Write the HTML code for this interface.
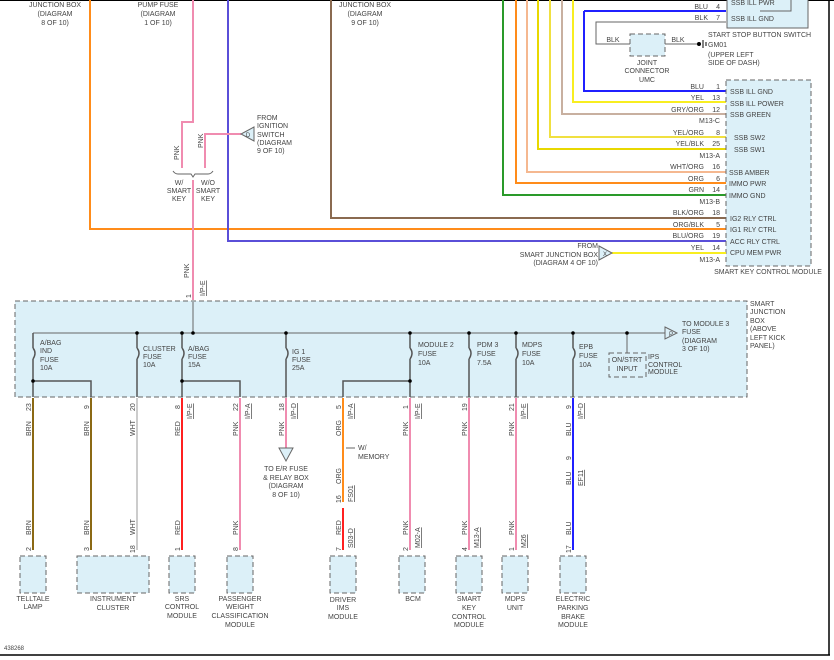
<!DOCTYPE html>
<html><head><meta charset="utf-8"><style>
html,body{margin:0;padding:0;background:#fff}
svg{display:block}
text{font-family:"Liberation Sans",sans-serif;font-size:7px;fill:#444}
.c{text-anchor:middle}
.r{text-anchor:end}
.box{fill:#dcf0f8;stroke:#666;stroke-width:1;stroke-dasharray:5,3}
.w{fill:none;stroke-width:2}
.k{fill:none;stroke:#666;stroke-width:1}
</style></head><body>
<svg width="834" height="660" viewBox="0 0 834 660" xmlns="http://www.w3.org/2000/svg">
<rect x="0" y="0" width="834" height="660" fill="#fff"/>
<line x1="0" y1="0.5" x2="834" y2="0.5" stroke="#000" stroke-width="1"/>
<line x1="829" y1="0" x2="829" y2="655" stroke="#000" stroke-width="1.5"/>
<line x1="0" y1="655" x2="830" y2="655" stroke="#000" stroke-width="1.5"/>

<!-- top labels -->
<text x="55" y="7" class="c">JUNCTION BOX</text>
<text x="55" y="16" class="c">(DIAGRAM</text>
<text x="55" y="25" class="c">8 OF 10)</text>
<text x="158" y="7" class="c">PUMP FUSE</text>
<text x="158" y="16" class="c">(DIAGRAM</text>
<text x="158" y="25" class="c">1 OF 10)</text>
<text x="365" y="7" class="c">JUNCTION BOX</text>
<text x="365" y="16" class="c">(DIAGRAM</text>
<text x="365" y="25" class="c">9 OF 10)</text>

<!-- long wires to SKCM -->
<path class="w" stroke="#ff8c1a" d="M90 0 V229 H726"/>
<path class="w" stroke="#5a4fd8" d="M228 0 V241 H726"/>
<path class="w" stroke="#8a6a50" d="M331 0 V218 H726"/>
<path class="w" stroke="#2a9a2a" d="M503 0 V195 H726"/>
<path class="w" stroke="#ff8c1a" d="M516 0 V183 H726"/>
<path class="w" stroke="#f5b890" d="M527 0 V172 H726"/>
<path class="w" stroke="#e8d800" d="M538 0 V149 H726"/>
<path class="w" stroke="#f0e040" d="M550 0 V137 H726"/>
<path class="w" stroke="#c8b0a0" d="M562 0 V114 H726"/>
<path class="w" stroke="#f8ee20" d="M573 0 V102 H726"/>
<path class="w" stroke="#2020ff" d="M584 11 V91 H726"/>
<path class="w" stroke="#2020ff" d="M584 11 H726"/>
<path class="k" stroke-width="1.5" d="M726 22 H596 V44 H630"/>
<path class="k" stroke-width="1.5" d="M665 44 H698"/>
<rect x="630" y="34" width="35" height="22" class="box"/>
<circle cx="699" cy="44" r="2" fill="#000"/>
<line x1="703" y1="40" x2="703" y2="48" stroke="#000"/>
<line x1="706" y1="42" x2="706" y2="46" stroke="#000"/>
<text x="613" y="42" class="c">BLK</text>
<text x="678" y="42" class="c">BLK</text>
<text x="708" y="47">GM01</text>
<text x="708" y="57">(UPPER LEFT</text>
<text x="708" y="65">SIDE OF DASH)</text>
<text x="647" y="65" class="c">JOINT</text>
<text x="647" y="73" class="c">CONNECTOR</text>
<text x="647" y="82" class="c">UMC</text>

<!-- start stop switch -->
<rect x="727" y="-4" width="81" height="32" fill="#dcf0f8" stroke="#666"/>
<path class="k" d="M791 -2 V11 H760"/>
<text x="731" y="5">SSB ILL PWR</text>
<text x="731" y="21">SSB ILL GND</text>
<text x="708" y="9" class="r">BLU</text><text x="720" y="9" class="r">4</text>
<text x="708" y="20" class="r">BLK</text><text x="720" y="20" class="r">7</text>
<text x="708" y="37">START STOP BUTTON SWITCH</text>

<!-- SKCM -->
<rect x="726" y="80" width="85" height="186" class="box"/>
<g>
<text x="730" y="94">SSB ILL GND</text>
<text x="730" y="106">SSB ILL POWER</text>
<text x="730" y="117">SSB GREEN</text>
<text x="734" y="140">SSB SW2</text>
<text x="734" y="152">SSB SW1</text>
<text x="729" y="175">SSB AMBER</text>
<text x="729" y="186">IMMO PWR</text>
<text x="729" y="198">IMMO GND</text>
<text x="730" y="221">IG2 RLY CTRL</text>
<text x="730" y="232">IG1 RLY CTRL</text>
<text x="730" y="244">ACC RLY CTRL</text>
<text x="730" y="255">CPU MEM PWR</text>
</g>
<g class="r">
<text x="704" y="89" class="r">BLU</text><text x="720" y="89" class="r">1</text>
<text x="704" y="100" class="r">YEL</text><text x="720" y="100" class="r">13</text>
<text x="704" y="112" class="r">GRY/ORG</text><text x="720" y="112" class="r">12</text>
<text x="720" y="123" class="r">M13-C</text>
<text x="704" y="135" class="r">YEL/ORG</text><text x="720" y="135" class="r">8</text>
<text x="704" y="146" class="r">YEL/BLK</text><text x="720" y="146" class="r">25</text>
<text x="720" y="158" class="r">M13-A</text>
<text x="704" y="169" class="r">WHT/ORG</text><text x="720" y="169" class="r">16</text>
<text x="704" y="181" class="r">ORG</text><text x="720" y="181" class="r">6</text>
<text x="704" y="192" class="r">GRN</text><text x="720" y="192" class="r">14</text>
<text x="720" y="204" class="r">M13-B</text>
<text x="704" y="215" class="r">BLK/ORG</text><text x="720" y="215" class="r">18</text>
<text x="704" y="227" class="r">ORG/BLK</text><text x="720" y="227" class="r">5</text>
<text x="704" y="238" class="r">BLU/ORG</text><text x="720" y="238" class="r">19</text>
<text x="704" y="250" class="r">YEL</text><text x="720" y="250" class="r">14</text>
<text x="720" y="262" class="r">M13-A</text>
</g>
<text x="768" y="274" class="c">SMART KEY CONTROL MODULE</text>
<path class="w" stroke="#f8ee20" d="M612 253 H726"/>
<path d="M599 246 L612 253 L599 260 Z" fill="#dcf0f8" stroke="#666"/>
<text x="605" y="256" class="c" style="font-size:6px">X</text>
<text x="598" y="248" class="r">FROM</text>
<text x="598" y="257" class="r">SMART JUNCTION BOX</text>
<text x="598" y="265" class="r">(DIAGRAM 4 OF 10)</text>

<!-- pink input -->
<path class="w" stroke="#f08cb0" d="M193 0 V122 H182 V168"/>
<path class="w" stroke="#f08cb0" d="M205 168 V134 H241"/>
<path class="w" stroke="#f08cb0" d="M193 180 V300"/>
<path d="M254 127 L241 134 L254 141 Z" fill="#dcf0f8" stroke="#666"/>
<text x="248" y="137" class="c" style="font-size:6px">D</text>
<text x="257" y="120">FROM</text><text x="257" y="128">IGNITION</text><text x="257" y="137">SWITCH</text><text x="257" y="145">(DIAGRAM</text><text x="257" y="153">9 OF 10)</text>
<path class="k" d="M173 171 q2 3 5 3 h13 l2 3 l2 -3 h13 q3 0 5 -3"/>
<text x="179" y="185" class="c">W/</text><text x="179" y="193" class="c">SMART</text><text x="179" y="201" class="c">KEY</text>
<text x="208" y="185" class="c">W/O</text><text x="208" y="193" class="c">SMART</text><text x="208" y="201" class="c">KEY</text>
<text transform="translate(179,160) rotate(-90)">PNK</text>
<text transform="translate(203,148) rotate(-90)">PNK</text>
<text transform="translate(189,278) rotate(-90)">PNK</text>
<text transform="translate(205,296) rotate(-90)" style="text-decoration:underline">I/P-E</text>
<text transform="translate(191,298) rotate(-90)">1</text>

<!-- smart junction box -->
<rect x="15" y="301" width="732" height="96" class="box"/>
<text x="750" y="306">SMART</text><text x="750" y="314">JUNCTION</text><text x="750" y="323">BOX</text><text x="750" y="331">(ABOVE</text><text x="750" y="340">LEFT KICK</text><text x="750" y="348">PANEL)</text>
<path class="k" stroke-width="1.5" d="M33 333 H665"/>
<path class="k" stroke-width="1.5" d="M193 302 V333"/>
<path d="M665 327 L677 333 L665 339 Z" fill="#dcf0f8" stroke="#666"/>
<text x="669" y="336" style="font-size:6px">P</text>
<text x="682" y="326">TO MODULE 3</text><text x="682" y="334">FUSE</text><text x="682" y="343">(DIAGRAM</text><text x="682" y="351">3 OF 10)</text>
<path class="k" stroke-width="1.5" d="M627 333 V353"/>
<rect x="609" y="353" width="37" height="24" class="box"/>
<text x="627" y="362" class="c">ON/STRT</text><text x="627" y="371" class="c">INPUT</text>
<text x="648" y="359">IPS</text><text x="648" y="367">CONTROL</text><text x="648" y="374">MODULE</text>
<!-- fuses -->
<g stroke="#555" stroke-width="1.5" fill="none">
<path d="M33 333 V348 M33 359 V397 M33 381 H91 V397"/>
<path d="M33 348 q4 5 0 11"/>
<path d="M137 333 V348 M137 359 V397 M137 348 q4 5 0 11"/>
<path d="M182 333 V348 M182 359 V397 M182 348 q4 5 0 11 M182 381 H240 V397"/>
<path d="M286 333 V348 M286 359 V397 M286 348 q4 5 0 11"/>
<path d="M410 333 V348 M410 359 V397 M410 348 q4 5 0 11 M410 381 H343 V397"/>
<path d="M469 333 V348 M469 359 V397 M469 348 q4 5 0 11"/>
<path d="M516 333 V348 M516 359 V397 M516 348 q4 5 0 11"/>
<path d="M573 333 V348 M573 359 V397 M573 348 q4 5 0 11"/>
</g>
<g fill="#000">
<circle cx="137" cy="333" r="1.8"/><circle cx="182" cy="333" r="1.8"/><circle cx="193" cy="333" r="1.8"/><circle cx="286" cy="333" r="1.8"/><circle cx="410" cy="333" r="1.8"/><circle cx="469" cy="333" r="1.8"/><circle cx="516" cy="333" r="1.8"/><circle cx="573" cy="333" r="1.8"/><circle cx="627" cy="333" r="1.8"/>
<circle cx="33" cy="381" r="1.8"/><circle cx="182" cy="381" r="1.8"/><circle cx="410" cy="381" r="1.8"/>
</g>
<text x="40" y="345">A/BAG</text><text x="40" y="353">IND</text><text x="40" y="362">FUSE</text><text x="40" y="370">10A</text>
<text x="143" y="351">CLUSTER</text><text x="143" y="359">FUSE</text><text x="143" y="367">10A</text>
<text x="188" y="351">A/BAG</text><text x="188" y="359">FUSE</text><text x="188" y="367">15A</text>
<text x="292" y="354">IG 1</text><text x="292" y="362">FUSE</text><text x="292" y="370">25A</text>
<text x="418" y="347">MODULE 2</text><text x="418" y="356">FUSE</text><text x="418" y="365">10A</text>
<text x="477" y="347">PDM 3</text><text x="477" y="356">FUSE</text><text x="477" y="365">7.5A</text>
<text x="522" y="347">MDPS</text><text x="522" y="356">FUSE</text><text x="522" y="365">10A</text>
<text x="579" y="349">EPB</text><text x="579" y="358">FUSE</text><text x="579" y="367">10A</text>

<!-- lower wires -->
<path class="w" stroke="#8b6914" d="M33 398 V550"/>
<path class="w" stroke="#8b6914" d="M91 398 V550"/>
<path class="w" stroke="#cccccc" d="M137 398 V550"/>
<path class="w" stroke="#ff2020" d="M182 398 V550"/>
<path class="w" stroke="#f08cb0" d="M240 398 V550"/>
<path class="w" stroke="#f08cb0" d="M286 398 V448"/>
<path class="w" stroke="#ff8c1a" d="M343 398 V502"/>
<path class="w" stroke="#ff2020" d="M343 508 V550"/>
<path class="w" stroke="#f08cb0" d="M410 398 V550"/>
<path class="w" stroke="#f08cb0" d="M469 398 V550"/>
<path class="w" stroke="#f08cb0" d="M516 398 V550"/>
<path class="w" stroke="#2020ff" d="M573 398 V550"/>
<path d="M279 448 L293 448 L286 461 Z" fill="#dcf0f8" stroke="#666"/>
<text x="286" y="471" class="c">TO E/R FUSE</text><text x="286" y="480" class="c">&amp; RELAY BOX</text><text x="286" y="488" class="c">(DIAGRAM</text><text x="286" y="497" class="c">8 OF 10)</text>
<path class="k" d="M346 448 H355"/>
<text x="358" y="450">W/</text><text x="358" y="459">MEMORY</text>

<!-- rotated labels top pins -->
<g>
<text transform="translate(31,411) rotate(-90)">23</text>
<text transform="translate(89,409) rotate(-90)">9</text>
<text transform="translate(135,411) rotate(-90)">20</text>
<text transform="translate(180,409) rotate(-90)">8</text>
<text transform="translate(192,419) rotate(-90)" style="text-decoration:underline">I/P-E</text>
<text transform="translate(238,411) rotate(-90)">22</text>
<text transform="translate(250,419) rotate(-90)" style="text-decoration:underline">I/P-A</text>
<text transform="translate(284,411) rotate(-90)">18</text>
<text transform="translate(296,419) rotate(-90)" style="text-decoration:underline">I/P-D</text>
<text transform="translate(341,409) rotate(-90)">5</text>
<text transform="translate(353,419) rotate(-90)" style="text-decoration:underline">I/P-A</text>
<text transform="translate(408,409) rotate(-90)">1</text>
<text transform="translate(420,419) rotate(-90)" style="text-decoration:underline">I/P-E</text>
<text transform="translate(467,411) rotate(-90)">19</text>
<text transform="translate(514,411) rotate(-90)">21</text>
<text transform="translate(526,419) rotate(-90)" style="text-decoration:underline">I/P-E</text>
<text transform="translate(571,409) rotate(-90)">9</text>
<text transform="translate(583,419) rotate(-90)" style="text-decoration:underline">I/P-D</text>
<text transform="translate(31,436) rotate(-90)">BRN</text>
<text transform="translate(89,436) rotate(-90)">BRN</text>
<text transform="translate(135,436) rotate(-90)">WHT</text>
<text transform="translate(180,436) rotate(-90)">RED</text>
<text transform="translate(238,436) rotate(-90)">PNK</text>
<text transform="translate(284,436) rotate(-90)">PNK</text>
<text transform="translate(341,436) rotate(-90)">ORG</text>
<text transform="translate(408,436) rotate(-90)">PNK</text>
<text transform="translate(467,436) rotate(-90)">PNK</text>
<text transform="translate(514,436) rotate(-90)">PNK</text>
<text transform="translate(571,436) rotate(-90)">BLU</text>
<text transform="translate(341,484) rotate(-90)">ORG</text>
<text transform="translate(341,503) rotate(-90)">16</text>
<text transform="translate(353,502) rotate(-90)" style="text-decoration:underline">FS01</text>
<text transform="translate(571,460) rotate(-90)">9</text>
<text transform="translate(583,486) rotate(-90)" style="text-decoration:underline">EF11</text>
<text transform="translate(571,485) rotate(-90)">BLU</text>
<!-- bottom -->
<text transform="translate(31,535) rotate(-90)">BRN</text>
<text transform="translate(89,535) rotate(-90)">BRN</text>
<text transform="translate(135,535) rotate(-90)">WHT</text>
<text transform="translate(180,535) rotate(-90)">RED</text>
<text transform="translate(238,535) rotate(-90)">PNK</text>
<text transform="translate(341,535) rotate(-90)">RED</text>
<text transform="translate(408,535) rotate(-90)">PNK</text>
<text transform="translate(467,535) rotate(-90)">PNK</text>
<text transform="translate(514,535) rotate(-90)">PNK</text>
<text transform="translate(571,535) rotate(-90)">BLU</text>
<text transform="translate(31,551) rotate(-90)">2</text>
<text transform="translate(89,551) rotate(-90)">3</text>
<text transform="translate(135,553) rotate(-90)">18</text>
<text transform="translate(180,551) rotate(-90)">1</text>
<text transform="translate(238,551) rotate(-90)">8</text>
<text transform="translate(341,551) rotate(-90)">7</text>
<text transform="translate(353,548) rotate(-90)" style="text-decoration:underline">S03-D</text>
<text transform="translate(408,551) rotate(-90)">2</text>
<text transform="translate(420,548) rotate(-90)" style="text-decoration:underline">M02-A</text>
<text transform="translate(467,551) rotate(-90)">4</text>
<text transform="translate(479,548) rotate(-90)" style="text-decoration:underline">M13-A</text>
<text transform="translate(514,551) rotate(-90)">1</text>
<text transform="translate(526,548) rotate(-90)" style="text-decoration:underline">M26</text>
<text transform="translate(571,553) rotate(-90)">17</text>
</g>

<!-- bottom components -->
<rect x="20" y="556" width="26" height="37" class="box"/>
<rect x="77" y="556" width="72" height="37" class="box"/>
<rect x="169" y="556" width="26" height="37" class="box"/>
<rect x="227" y="556" width="26" height="37" class="box"/>
<rect x="330" y="556" width="26" height="37" class="box"/>
<rect x="399" y="556" width="26" height="37" class="box"/>
<rect x="456" y="556" width="26" height="37" class="box"/>
<rect x="502" y="556" width="26" height="37" class="box"/>
<rect x="560" y="556" width="26" height="37" class="box"/>
<text x="33" y="601" class="c">TELLTALE</text><text x="33" y="609" class="c">LAMP</text>
<text x="113" y="601" class="c">INSTRUMENT</text><text x="113" y="610" class="c">CLUSTER</text>
<text x="182" y="601" class="c">SRS</text><text x="182" y="609" class="c">CONTROL</text><text x="182" y="618" class="c">MODULE</text>
<text x="240" y="601" class="c">PASSENGER</text><text x="240" y="609" class="c">WEIGHT</text><text x="240" y="618" class="c">CLASSIFICATION</text><text x="240" y="627" class="c">MODULE</text>
<text x="343" y="602" class="c">DRIVER</text><text x="343" y="610" class="c">IMS</text><text x="343" y="619" class="c">MODULE</text>
<text x="413" y="601" class="c">BCM</text>
<text x="469" y="601" class="c">SMART</text><text x="469" y="610" class="c">KEY</text><text x="469" y="619" class="c">CONTROL</text><text x="469" y="627" class="c">MODULE</text>
<text x="515" y="601" class="c">MDPS</text><text x="515" y="610" class="c">UNIT</text>
<text x="573" y="601" class="c">ELECTRIC</text><text x="573" y="610" class="c">PARKING</text><text x="573" y="619" class="c">BRAKE</text><text x="573" y="627" class="c">MODULE</text>
<text x="4" y="650" style="font-size:6px">438268</text>
</svg>
</body></html>
